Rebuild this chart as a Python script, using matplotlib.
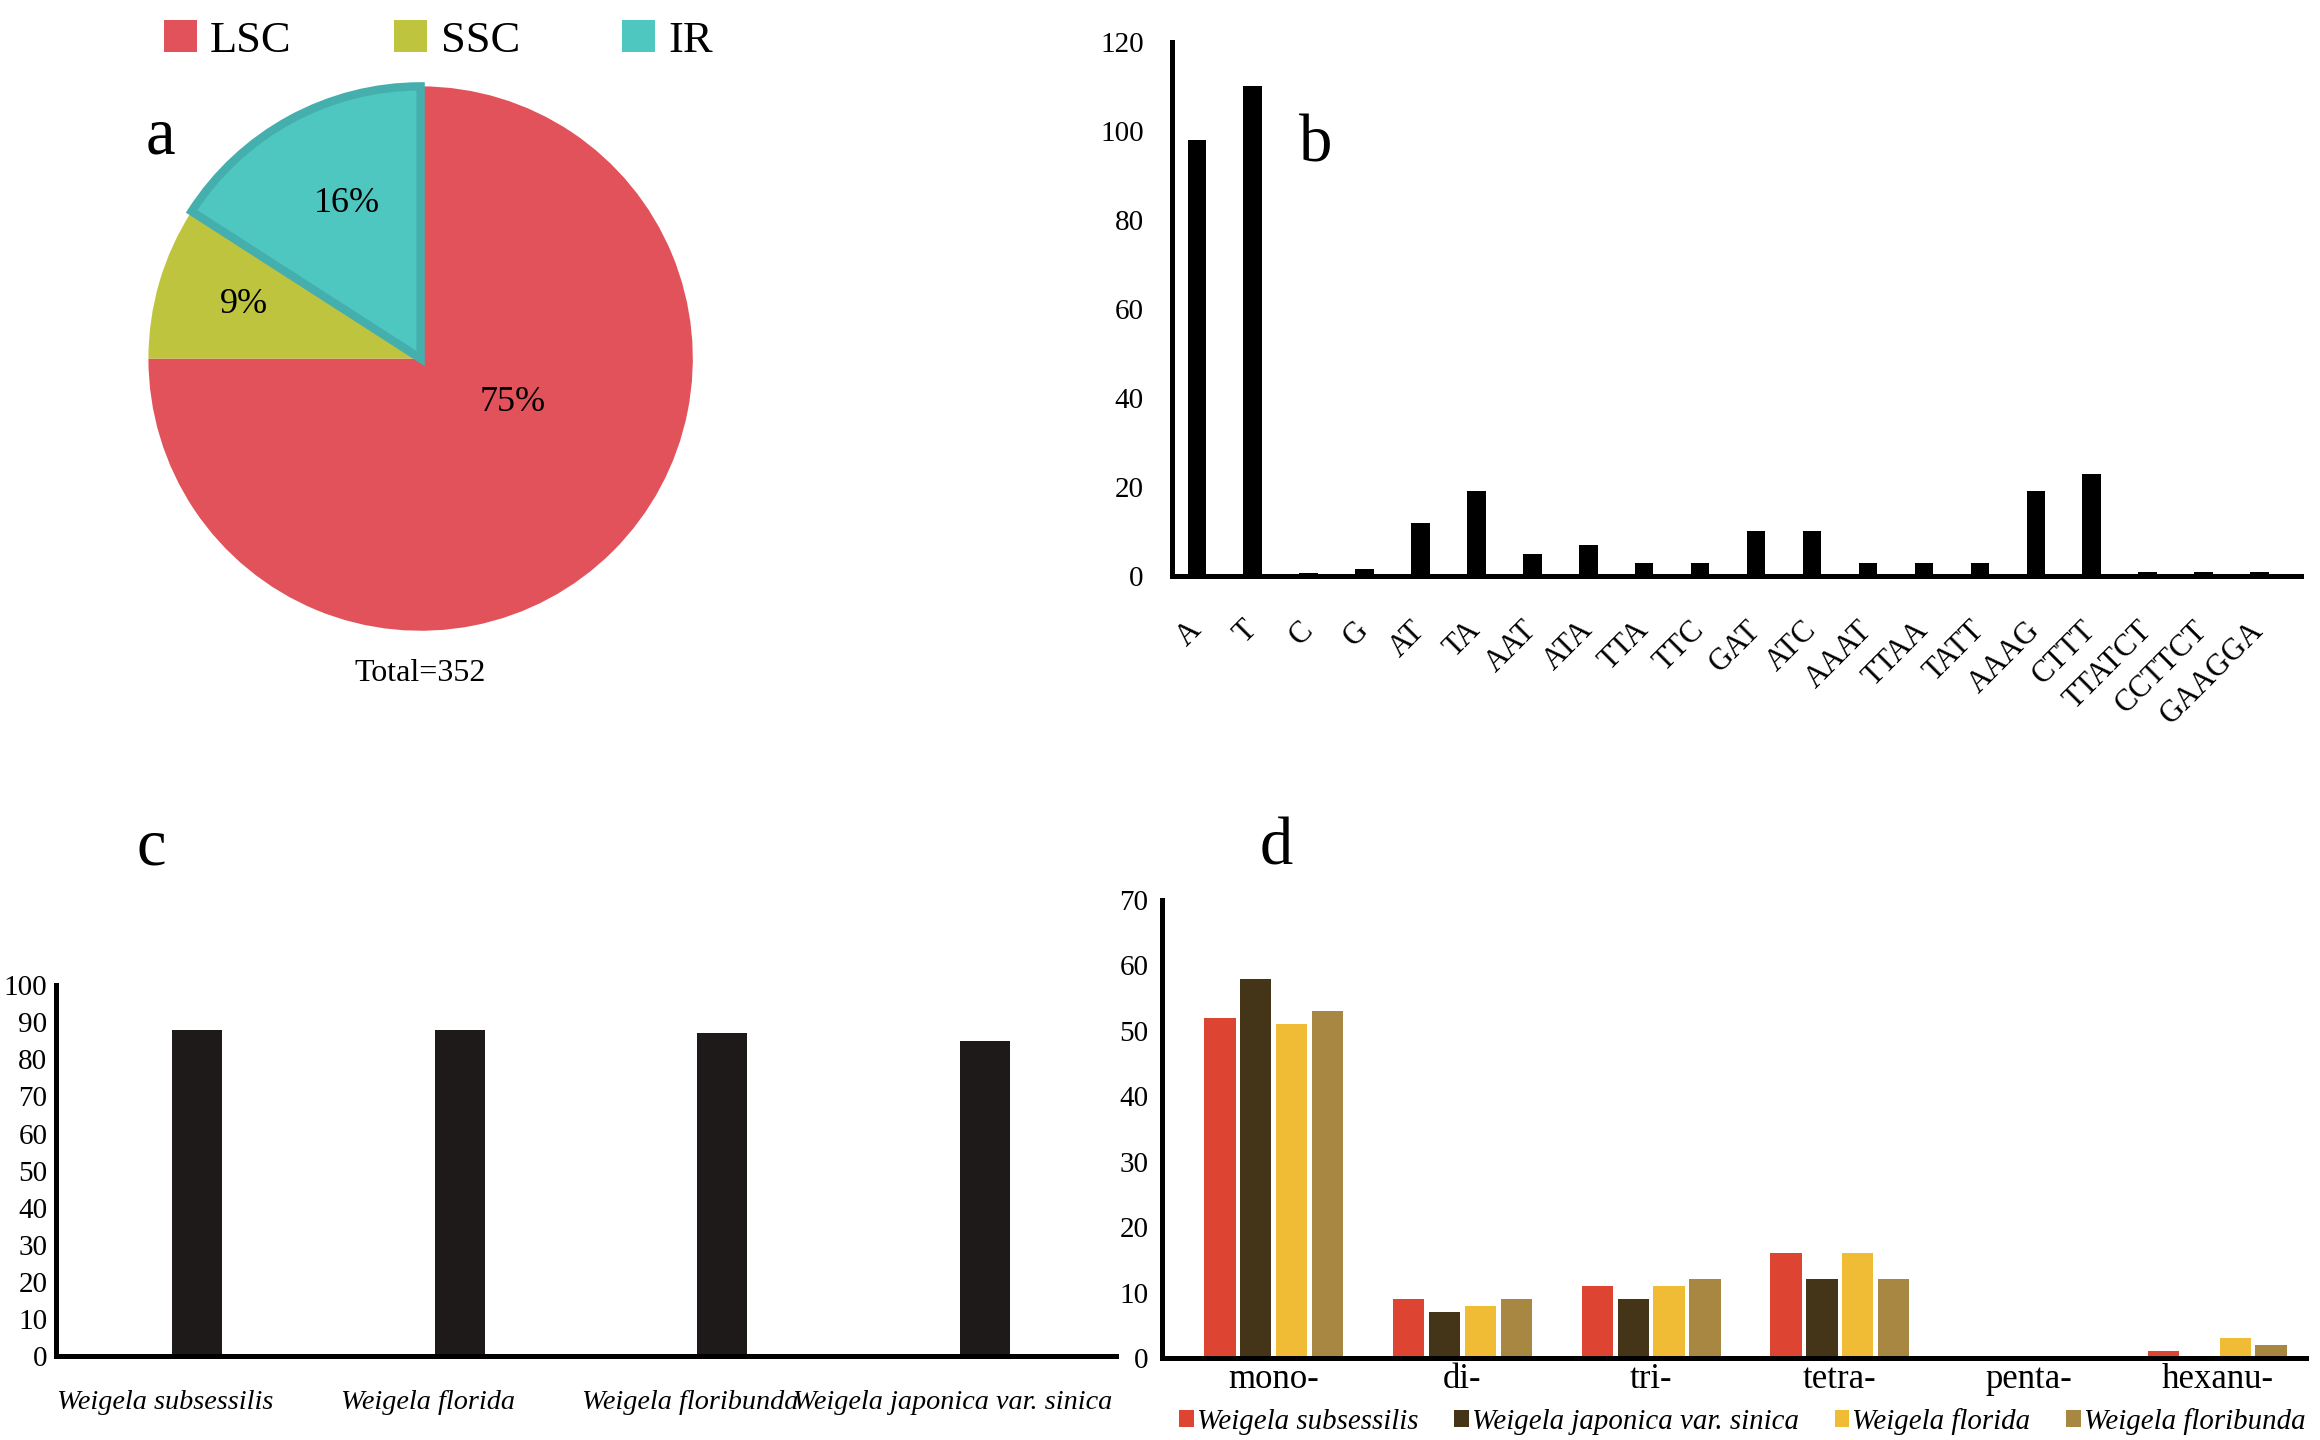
import numpy as np
import matplotlib
matplotlib.use("Agg")
import matplotlib.pyplot as plt
from matplotlib.patches import Patch
from matplotlib.transforms import ScaledTranslation

plt.rcParams['font.family'] = ['Liberation Serif', 'DejaVu Serif']

# (a) SSR location
region_names = ['LSC', 'SSC', 'IR']
region_counts = [264, 32, 56]
region_total = 352

# (b) repeat motifs
motif_names = ['A', 'T', 'C', 'G', 'AT', 'TA', 'AAT', 'ATA', 'TTA', 'TTC', 'GAT', 'ATC',
               'AAAT', 'TTAA', 'TATT', 'AAAG', 'CTTT', 'TTATCT', 'CCTTCT', 'GAAGGA']
motif_counts = [98, 110, 0.7, 1.5, 12, 19, 5, 7, 3, 3, 10, 10, 3, 3, 3, 19, 23, 1, 1, 1]

# (c) total SSRs per species
species_c = ['Weigela subsessilis', 'Weigela florida', 'Weigela floribunda',
             'Weigela japonica var. sinica']
ssr_totals = [88, 88, 87, 85]

# (d) repeat type per species
repeat_types = ['mono-', 'di-', 'tri-', 'tetra-', 'penta-', 'hexanu-']
species_d = ['Weigela subsessilis', 'Weigela japonica var. sinica', 'Weigela florida',
             'Weigela floribunda']
type_counts = {
    'Weigela subsessilis':          [52, 9, 11, 16, 0, 1],
    'Weigela japonica var. sinica': [58, 7, 9, 12, 0, 0],
    'Weigela florida':              [51, 8, 11, 16, 0, 3],
    'Weigela floribunda':           [53, 9, 12, 12, 0, 2],
}

pie_colors = ['#E2525B', '#BFC43F', '#4EC7C0']
d_colors = ['#DD4532', '#453518', '#F1BC35', '#A78742']

fig = plt.figure(figsize=(11.6, 7.2), dpi=200)


def style_axes(ax):
    for s in ['top', 'right']:
        ax.spines[s].set_visible(False)
    for s in ['left', 'bottom']:
        ax.spines[s].set_linewidth(1.8)
        ax.spines[s].set_color('black')
    ax.tick_params(length=0)


# ---- a: pie
axa = fig.add_axes([0.0628, 0.560, 0.237, 0.382])
wedges, _ = axa.pie(region_counts, colors=pie_colors, startangle=90, counterclock=False,
                    radius=1.0)
wedges[2].set_edgecolor('#45AFAE')
wedges[2].set_linewidth(3)
axa.set_xlim(-1.01, 1.01)
axa.set_ylim(-1.01, 1.01)
pct = [100.0 * v / region_total for v in region_counts]
axa.text(0.34, -0.16, '%d%%' % round(pct[0]), fontsize=13, ha='center', va='center')
axa.text(-0.65, 0.20, '%d%%' % round(pct[1]), fontsize=13, ha='center', va='center')
axa.text(-0.27, 0.57, '%d%%' % round(pct[2]), fontsize=13, ha='center', va='center')
fig.text(0.181, 0.532, 'Total=%d' % region_total, fontsize=11.5, ha='center', va='center')
fig.text(0.069, 0.905, 'a', fontsize=24, ha='center', va='center')
handles = [Patch(facecolor=c, edgecolor='none') for c in pie_colors]
fig.legend(handles, region_names, loc='center', bbox_to_anchor=(0.189, 0.972), ncol=3,
           frameon=False, fontsize=16, handlelength=0.75, handleheight=0.75,
           handletextpad=0.3, columnspacing=2.3)

# ---- b: motifs
axb = fig.add_axes([0.505, 0.600, 0.487, 0.371])
xb = np.arange(len(motif_names))
axb.bar(xb, motif_counts, width=0.33, color='black')
axb.set_xlim(-0.45, len(motif_names) - 0.25)
axb.set_ylim(0, 120)
axb.set_yticks(np.arange(0, 121, 20))
axb.set_xticks(xb)
axb.set_xticklabels(motif_names, rotation=45, ha='right', va='center',
                    rotation_mode='anchor', fontsize=11)
style_axes(axb)
axb.tick_params(axis='x', pad=18)
axb.tick_params(axis='y', pad=10, labelsize=10.5)
fig.text(0.567, 0.899, 'b', fontsize=24, ha='center', va='center')

# ---- c: totals
axc = fig.add_axes([0.024, 0.058, 0.457, 0.258])
xc = np.arange(len(species_c))
axc.bar(xc, ssr_totals, width=0.19, color='#1E1A1A')
axc.set_xlim(-0.54, len(species_c) - 0.5)
axc.set_ylim(0, 100)
axc.set_yticks(np.arange(0, 101, 10))
axc.set_xticks(xc)
axc.set_xticklabels(species_c, fontsize=10.2, style='italic')
style_axes(axc)
axc.tick_params(axis='x', pad=12)
axc.tick_params(axis='y', pad=3, labelsize=10.5)
shift = ScaledTranslation(-0.16, 0, fig.dpi_scale_trans)
for lab in axc.get_xticklabels():
    lab.set_transform(lab.get_transform() + shift)
fig.text(0.065, 0.411, 'c', fontsize=24, ha='center', va='center')

# ---- d: repeat types
axd = fig.add_axes([0.501, 0.057, 0.493, 0.318])
xd = np.arange(len(repeat_types))
bw = 0.166
step = 0.19
for i, sp in enumerate(species_d):
    axd.bar(xd + (i - 1.5) * step, type_counts[sp], width=bw, color=d_colors[i], label=sp)
axd.set_xlim(-0.59, len(repeat_types) - 0.53)
axd.set_ylim(0, 70)
axd.set_yticks(np.arange(0, 71, 10))
axd.set_xticks(xd)
axd.set_xticklabels(repeat_types, fontsize=12.5)
style_axes(axd)
axd.tick_params(axis='x', pad=2)
axd.tick_params(axis='y', pad=5, labelsize=10.5)
axd.legend(loc='center', bbox_to_anchor=(0.751, 0.013), bbox_transform=fig.transFigure,
           ncol=4, frameon=False, prop={'style': 'italic', 'size': 10.4},
           handlelength=0.5, handleheight=0.5, handletextpad=0.1, columnspacing=1.25)
fig.text(0.550, 0.411, 'd', fontsize=24, ha='center', va='center')

fig.savefig('out.png', dpi=200, facecolor='white')
